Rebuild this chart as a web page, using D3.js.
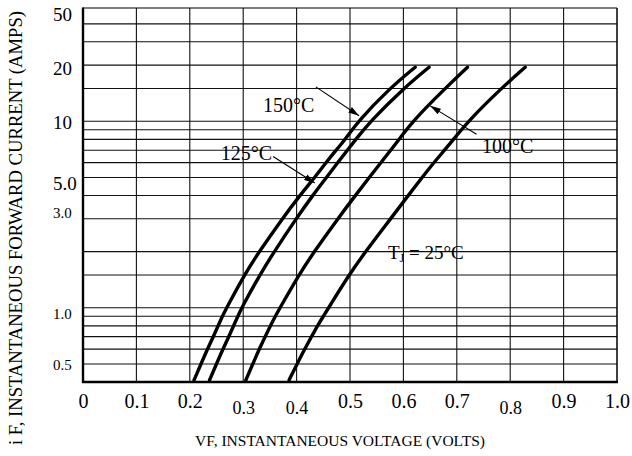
<!DOCTYPE html>
<html>
<head>
<meta charset="utf-8">
<script src="https://cdn.jsdelivr.net/npm/d3@7"></script>
<style>
  html, body { margin: 0; padding: 0; background: #fff; }
  svg { display: block; }
  text { font-family: "Liberation Serif", "Times New Roman", serif; fill: #000; }
</style>
</head>
<body>
<svg id="chart" width="632" height="456"></svg>
<script>

//--------------------------------------
// DATA
//--------------------------------------

const voltTicks = [0, 0.1, 0.2, 0.3, 0.4, 0.5, 0.6, 0.7, 0.8, 0.9, 1.0];
const voltTickLabels = ["0", "0.1", "0.2", "0.3", "0.4", "0.5", "0.6", "0.7", "0.8", "0.9", "1.0"];

// horizontal grid lines (amps); the top two are drawn unevenly on the sheet
const currentGrid = [0.5, 0.6, 0.7, 0.8, 0.9, 1, 1.5, 2, 3, 4, 5, 6, 7, 8, 9, 10, 15, 20, 26.7, 33.3];

// tick labels and the current at which each one sits on the sheet
const currentLabels = ["0.5", "1.0", "3.0", "5.0", "10", "20", "50"];
const currentLabelAt = [0.5, 0.94, 3.25, 4.7, 9.9, 19.3, 37.5];

// forward current points shared by every curve
const currents = [0.41, 0.5, 0.6, 0.7, 0.8, 0.9, 1, 1.5, 2, 3, 4, 5, 6, 7, 8, 10, 15, 19.5];

const volts150 = [0.208, 0.221, 0.233, 0.244, 0.253, 0.261, 0.269, 0.302, 0.330, 0.373, 0.406, 0.434, 0.455, 0.474, 0.491, 0.515, 0.574, 0.622];
const volts125 = [0.237, 0.250, 0.262, 0.273, 0.282, 0.290, 0.297, 0.331, 0.358, 0.399, 0.430, 0.456, 0.477, 0.495, 0.511, 0.538, 0.600, 0.648];
const volts100 = [0.305, 0.318, 0.330, 0.341, 0.351, 0.360, 0.369, 0.404, 0.433, 0.477, 0.510, 0.536, 0.558, 0.576, 0.592, 0.617, 0.678, 0.720];
const volts25  = [0.386, 0.401, 0.415, 0.428, 0.439, 0.450, 0.460, 0.498, 0.529, 0.576, 0.609, 0.635, 0.657, 0.677, 0.694, 0.721, 0.783, 0.828];

const seriesVolts = [volts150, volts125, volts100, volts25];

// callouts: label anchor and arrow in (volts, amps)
const callouts = [
  { text: "150°C", at: [0.337, 11.2], from: [0.436, 15.3], to: [0.517, 10.7] },
  { text: "125°C", at: [0.258, 6.2],  from: [0.356, 6.48], to: [0.434, 4.67] },
  { text: "100°C", at: [0.747, 6.76], from: [0.737, 8.52], to: [0.650, 12.1] }
];



//--------------------------------------
// SETUP
//--------------------------------------

const svg = d3.select("#chart");
const plotLeft = 83, plotRight = 617, plotTop = 8, plotBottom = 382;

const x = d3.scaleLinear().domain([0, 1]).range([plotLeft, plotRight]);
const y = d3.scaleLog().domain([0.4, 40.5]).range([plotBottom, plotTop]);

// the scanned sheet has a few labels set smaller / lower than the rest
const smallYLabels = new Set(["3.0", "1.0", "0.5"]);
const lowXLabels = new Set(["0.3", "0.4", "0.8"]);


_drawGrid();
_drawAxes();
_drawCurves();
_drawCallouts();



function _drawGrid() {

  var grid = svg.append("g").attr("stroke", "#111").attr("stroke-width", 1.1);

  grid.selectAll("line.v").data(voltTicks.slice(1, -1)).enter().append("line")
    .attr("x1", d => x(d)).attr("x2", d => x(d))
    .attr("y1", plotTop).attr("y2", plotBottom);

  grid.selectAll("line.h").data(currentGrid).enter().append("line")
    .attr("x1", plotLeft).attr("x2", plotRight)
    .attr("y1", d => y(d)).attr("y2", d => y(d));

  // frame: heavy left/bottom, light top/right
  svg.append("line").attr("x1", plotLeft).attr("x2", plotRight).attr("y1", plotTop).attr("y2", plotTop)
    .attr("stroke", "#000").attr("stroke-width", 1.2);
  svg.append("line").attr("x1", plotRight).attr("x2", plotRight).attr("y1", plotTop).attr("y2", plotBottom)
    .attr("stroke", "#000").attr("stroke-width", 1.5);
  svg.append("line").attr("x1", plotLeft).attr("x2", plotLeft).attr("y1", plotTop - 0.5).attr("y2", plotBottom + 1)
    .attr("stroke", "#000").attr("stroke-width", 2.4);
  svg.append("line").attr("x1", plotLeft - 1).attr("x2", plotRight + 1).attr("y1", plotBottom).attr("y2", plotBottom)
    .attr("stroke", "#000").attr("stroke-width", 2.4);

}



function _drawAxes() {

  var xAxis = d3.axisBottom(x)
    .tickValues(voltTicks)
    .tickFormat((d, i) => voltTickLabels[i])
    .tickSize(0).tickPadding(0);

  var gx = svg.append("g").attr("transform", "translate(0," + plotBottom + ")").call(xAxis);
  gx.select(".domain").remove();
  gx.selectAll("text")
    .attr("y", function() { return lowXLabels.has(this.textContent) ? 26 : 19; })
    .attr("dy", "0.35em")
    .attr("font-family", "Liberation Serif")
    .attr("font-size", function() { return lowXLabels.has(this.textContent) ? 18 : 20; });

  var yAxis = d3.axisLeft(y)
    .tickValues(currentLabelAt)
    .tickFormat((d, i) => currentLabels[i])
    .tickSize(0).tickPadding(0);

  var gy = svg.append("g").attr("transform", "translate(" + plotLeft + ",0)").call(yAxis);
  gy.select(".domain").remove();
  gy.selectAll("text")
    .attr("x", 53 - plotLeft).attr("dy", "0.35em")
    .attr("text-anchor", "start")
    .attr("font-family", "Liberation Serif")
    .attr("font-size", function() { return smallYLabels.has(this.textContent) ? 15 : 19; });

  svg.append("text")
    .attr("x", 340).attr("y", 446)
    .attr("text-anchor", "middle")
    .attr("font-size", 15.5)
    .text("VF, INSTANTANEOUS VOLTAGE (VOLTS)");

  svg.append("text")
    .attr("transform", "translate(22,228) rotate(-90)")
    .attr("text-anchor", "middle")
    .attr("font-size", 18)
    .attr("textLength", 434).attr("lengthAdjust", "spacingAndGlyphs")
    .text("i F, INSTANTANEOUS FORWARD CURRENT (AMPS)");

}



function _drawCurves() {

  var line = d3.line()
    .x(d => x(d[0]))
    .y(d => y(d[1]))
    .curve(d3.curveBasis);

  svg.append("g").selectAll("path").data(seriesVolts).enter().append("path")
    .attr("d", vs => line(vs.map((v, i) => [v, currents[i]])))
    .attr("fill", "none")
    .attr("stroke", "#000")
    .attr("stroke-width", 3.4)
    .attr("stroke-linecap", "round")
    .attr("stroke-linejoin", "round");

}



function _drawCallouts() {

  svg.append("defs").append("marker")
    .attr("id", "head").attr("viewBox", "0 0 10 6")
    .attr("refX", 10).attr("refY", 3)
    .attr("markerWidth", 11).attr("markerHeight", 6.5)
    .attr("markerUnits", "userSpaceOnUse")
    .attr("orient", "auto")
    .append("path").attr("d", "M0,0L10,3L0,6Z").attr("fill", "#000");

  var g = svg.append("g");

  g.selectAll("line").data(callouts).enter().append("line")
    .attr("x1", d => x(d.from[0])).attr("y1", d => y(d.from[1]))
    .attr("x2", d => x(d.to[0])).attr("y2", d => y(d.to[1]))
    .attr("stroke", "#000").attr("stroke-width", 1.1)
    .attr("marker-end", "url(#head)");

  g.selectAll("text").data(callouts).enter().append("text")
    .attr("x", d => x(d.at[0])).attr("y", d => y(d.at[1]))
    .attr("font-size", 20)
    .text(d => d.text);

  // junction temperature label with subscript J
  var tj = g.append("text")
    .attr("x", x(0.571)).attr("y", y(1.83))
    .attr("font-size", 19);
  tj.append("tspan").text("T");
  tj.append("tspan").attr("font-size", 12).attr("dy", 3).text("J");
  tj.append("tspan").attr("dy", -3).text(" = 25°C");

}

</script>
</body>
</html>
